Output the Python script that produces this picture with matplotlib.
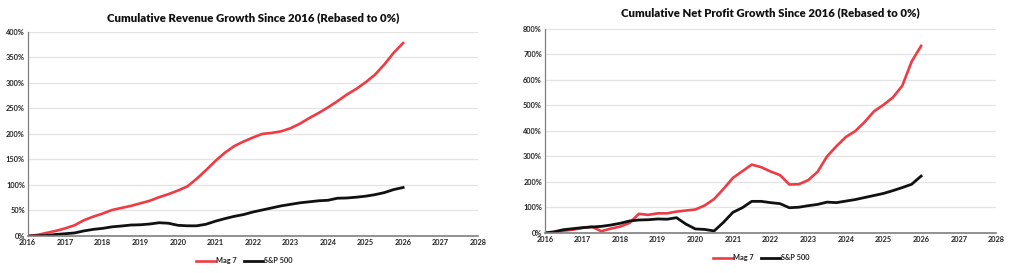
import matplotlib
matplotlib.use("Agg")
import matplotlib.pyplot as plt
import numpy as np
from matplotlib.ticker import FuncFormatter

# Quarterly points 2016.00 ... 2026.00
quarters = [2016 + 0.25 * i for i in range(41)]

rev_mag7 = [0, 2, 6, 10, 15, 21, 31, 38, 44, 51, 55, 59, 64, 69, 76, 82, 89, 97, 112, 129,
            147, 163, 176, 185, 193, 200, 202, 205, 211, 220, 231, 241, 252, 264, 277, 288,
            301, 316, 336, 359, 378]
rev_sp500 = [0, 0.5, 1, 3, 4.5, 6, 10, 13, 15, 18, 19.6, 21.5, 22, 23.5, 26, 25, 21, 20, 20, 23,
             29, 34, 38.5, 42, 47, 51, 55, 59, 62, 65, 67, 69, 70, 74, 74.5, 76, 78, 81, 85, 91, 95]

np_mag7 = [0, 2, 9, 13, 20, 25, 7, 17, 25, 39, 75, 71, 77, 77, 84, 88, 92, 108, 133, 173,
           216, 242, 268, 258, 241, 227, 190, 191, 207, 240, 300, 340, 376, 399, 435, 477,
           502, 531, 577, 672, 733]
np_sp500 = [0, 5, 13, 17, 21, 23.5, 26, 31, 38, 47, 51, 52, 55, 54, 60, 35, 16, 14, 8, 42,
            81, 99, 124, 124, 119, 115, 99, 101, 107, 112, 121, 119, 125, 131, 139, 147,
            155, 166, 178, 191, 223]

year_ticks = list(range(2016, 2029))
series_names = ["Mag 7", "S&P 500"]

RED = "#ef3b44"
BLACK = "#111111"
plt.rcParams['font.family'] = ['Lato', 'DejaVu Sans']

fig = plt.figure(figsize=(10.24, 2.73), dpi=100)
fig.patch.set_facecolor("white")

specs = [
    ([0.027, 0.1355, 0.440, 0.748], "Cumulative Revenue Growth Since 2016 (Rebased to 0%)",
     rev_mag7, rev_sp500, 400, 50, 8),
    ([0.532, 0.1465, 0.441, 0.748], "Cumulative Net Profit Growth Since 2016 (Rebased to 0%)",
     np_mag7, np_sp500, 800, 100, 9),
]

for rect, title, mag, sp, ymax, step, tpad in specs:
    ax = fig.add_axes(rect)
    ax.plot(quarters, mag, color=RED, lw=1.9, label=series_names[0], solid_joinstyle="round")
    ax.plot(quarters, sp, color=BLACK, lw=2.0, label=series_names[1], solid_joinstyle="round")
    ax.set_xlim(2016, 2028)
    ax.set_ylim(0, ymax)
    ax.set_xticks(year_ticks)
    ax.set_yticks(np.arange(0, ymax + 1, step))
    ax.yaxis.set_major_formatter(FuncFormatter(lambda v, p: f"{int(v)}%"))
    ax.grid(axis="y", color="#e4e4e4", lw=0.9)
    ax.set_axisbelow(True)
    for s in ["top", "right"]:
        ax.spines[s].set_visible(False)
    ax.spines["left"].set_color("#7f7f7f")
    ax.spines["bottom"].set_color("#7f7f7f")
    ax.spines["left"].set_linewidth(0.9)
    ax.spines["bottom"].set_linewidth(1.2)
    ax.tick_params(axis="both", length=0, labelsize=5.3, colors="#222222", pad=2)
    for lab in ax.get_xticklabels() + ax.get_yticklabels():
        lab.set_fontweight("bold")
    ax.set_title(title, fontsize=8.2, fontweight="heavy", color="#111111", pad=tpad)
    leg = ax.legend(loc="upper center", bbox_to_anchor=(0.48, -0.09), ncol=2, frameon=False,
                    fontsize=5.3, handlelength=2.6, columnspacing=1.0, handletextpad=0.1,
                    borderaxespad=0)
    for t in leg.get_texts():
        t.set_color("#222222")
        t.set_fontweight("bold")

fig.savefig("out.png", dpi=100, facecolor="white")
